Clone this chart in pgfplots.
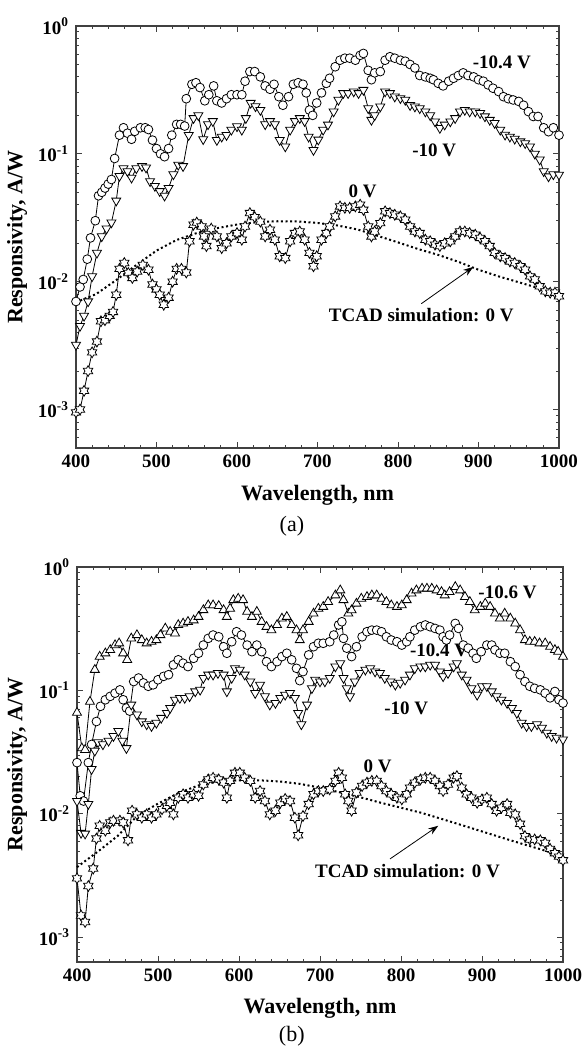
\documentclass[border=0pt]{standalone}
\usepackage{fontspec}
\setmainfont{Liberation Serif}
\usepackage{pgfplots}
\pgfplotsset{compat=1.18}
\usetikzlibrary{arrows.meta}

% six-pointed open star used for the 0 V curves
\pgfdeclareplotmark{hexstar}{%
  \pgfpathmoveto{\pgfpointpolar{90}{\pgfplotmarksize}}%
  \pgfpathlineto{\pgfpointpolar{120}{0.577\pgfplotmarksize}}%
  \pgfpathlineto{\pgfpointpolar{150}{\pgfplotmarksize}}%
  \pgfpathlineto{\pgfpointpolar{180}{0.577\pgfplotmarksize}}%
  \pgfpathlineto{\pgfpointpolar{210}{\pgfplotmarksize}}%
  \pgfpathlineto{\pgfpointpolar{240}{0.577\pgfplotmarksize}}%
  \pgfpathlineto{\pgfpointpolar{270}{\pgfplotmarksize}}%
  \pgfpathlineto{\pgfpointpolar{300}{0.577\pgfplotmarksize}}%
  \pgfpathlineto{\pgfpointpolar{330}{\pgfplotmarksize}}%
  \pgfpathlineto{\pgfpointpolar{0}{0.577\pgfplotmarksize}}%
  \pgfpathlineto{\pgfpointpolar{30}{\pgfplotmarksize}}%
  \pgfpathlineto{\pgfpointpolar{60}{0.577\pgfplotmarksize}}%
  \pgfpathclose
  \pgfusepathqfillstroke
}

\tikzset{
  mycirc/.style={black, line width=0.4pt, mark=*, mark size=2.2pt, mark options={fill=white, line width=0.4pt}},
  mytdown/.style={black, line width=0.4pt, mark=triangle*, mark size=2.6pt, mark options={fill=white, rotate=180, line width=0.4pt}},
  mytup/.style={black, line width=0.4pt, mark=triangle*, mark size=2.6pt, mark options={fill=white, line width=0.4pt}},
  myhstar/.style={black, line width=0.4pt, mark=hexstar, mark size=2.7pt, mark options={fill=white, line width=0.4pt}},
  mytcad/.style={black, line width=1pt, dash pattern=on 1pt off 1.3pt},
  mylab/.style={font=\fontsize{9.5}{11}\selectfont\bfseries},
}

\begin{document}
\begin{tikzpicture}
\useasboundingbox (-38pt,-300.5pt) rectangle (254pt,224pt);

% ---------------- (a) ----------------
\begin{semilogyaxis}[at={(0,0)}, anchor=south west,
  scale only axis, width=241.5pt, height=211pt,
  xmin=400, xmax=1000, ymin=5e-4, ymax=1,
  xtick={400,500,...,1000}, xticklabels={400,500,600,700,800,900,1000},
  minor x tick num=4,
  ytick={1e-3,1e-2,1e-1,1},
  yticklabels={10\textsuperscript{-3},10\textsuperscript{-2},10\textsuperscript{-1},10\textsuperscript{0}},
  minor ytick={6e-4,7e-4,8e-4,9e-4,2e-3,3e-3,4e-3,5e-3,6e-3,7e-3,8e-3,9e-3,2e-2,3e-2,4e-2,5e-2,6e-2,7e-2,8e-2,9e-2,0.2,0.3,0.4,0.5,0.6,0.7,0.8,0.9},
  tick align=inside, major tick length=3pt, minor tick length=1.6pt,
  tick style={black!75, line width=0.4pt},
  axis line style={black!75, line width=0.6pt},
  ticklabel style={font=\fontsize{9.5}{11}\selectfont\bfseries},
  xlabel={Wavelength, nm}, ylabel={Responsivity, A/W},
  xlabel style={font=\fontsize{11}{13}\selectfont\bfseries, at={(axis description cs:0.5,-0.111)}, anchor=center},
  ylabel style={font=\fontsize{11}{13}\selectfont\bfseries, at={(axis description cs:-0.122,0.5)}, anchor=center},
  clip=false]

\addplot[mycirc] coordinates {
(400,0.0070) (405,0.0091) (409,0.0104) (414,0.015) (418,0.022) (424,0.030) (428,0.047)
(432,0.050) (436,0.054) (440,0.058) (444,0.063) (448,0.092) (454,0.14) (459,0.16)
(464,0.145) (469,0.13) (473,0.15) (480,0.16) (486,0.16) (490,0.155) (495,0.128)
(500,0.11) (505,0.10) (510,0.095) (515,0.11) (519,0.14) (525,0.17) (530,0.17)
(535,0.165) (537,0.27) (544,0.35) (549,0.36) (554,0.33) (560,0.26) (565,0.29)
(571,0.34) (575,0.26) (581,0.25) (587,0.27) (593,0.29) (600,0.29) (606,0.29)
(610,0.37) (616,0.44) (622,0.44) (629,0.40) (635,0.34) (641,0.32) (646,0.35)
(652,0.28) (657,0.24) (664,0.28) (670,0.35) (676,0.36) (682,0.35) (686,0.30)
(690,0.22) (694,0.20) (699,0.25) (705,0.30) (711,0.356) (715,0.39) (722,0.48)
(728,0.54) (734,0.56) (740,0.56) (747,0.54) (753,0.59) (757,0.61) (763,0.45)
(767,0.38) (771,0.43) (778,0.44) (784,0.54) (790,0.575) (796,0.56) (803,0.54)
(809,0.53) (815,0.50) (821,0.47) (827,0.41) (834,0.40) (840,0.39) (844,0.38)
(850,0.356) (856,0.34) (863,0.37) (869,0.39) (875,0.41) (881,0.43) (887,0.41)
(894,0.40) (900,0.38) (906,0.37) (912,0.346) (918,0.326) (925,0.307) (931,0.28)
(937,0.27) (943,0.264) (950,0.257) (956,0.24) (962,0.214) (968,0.196) (974,0.196)
(981,0.16) (987,0.149) (993,0.16) (1000,0.14)
};

\addplot[mytdown] coordinates {
(400,0.0032) (405,0.0045) (410,0.0054) (415,0.0070) (420,0.011) (426,0.0168)
(432,0.0226) (438,0.026) (444,0.029) (450,0.043) (454,0.067) (459,0.077) (464,0.073)
(469,0.065) (475,0.077) (482,0.080) (487,0.078) (492,0.061) (498,0.056) (504,0.051)
(510,0.047) (515,0.054) (521,0.069) (527,0.082) (533,0.080) (540,0.14) (546,0.19)
(552,0.20) (558,0.13) (564,0.17) (570,0.18) (575,0.128) (581,0.136) (587,0.14)
(593,0.154) (600,0.164) (606,0.154) (611,0.19) (617,0.25) (623,0.235) (629,0.22)
(635,0.17) (641,0.18) (647,0.17) (653,0.128) (660,0.114) (666,0.154) (672,0.18)
(678,0.19) (684,0.18) (689,0.136) (695,0.107) (701,0.129) (707,0.154) (713,0.169)
(720,0.214) (726,0.264) (732,0.298) (738,0.298) (745,0.307) (751,0.298) (757,0.316)
(763,0.227) (767,0.184) (771,0.20) (778,0.234) (784,0.307) (790,0.298) (796,0.28)
(803,0.272) (809,0.264) (815,0.24) (821,0.234) (827,0.227) (834,0.214) (840,0.20)
(846,0.179) (852,0.159) (858,0.169) (865,0.179) (871,0.19) (877,0.214) (883,0.22)
(889,0.214) (896,0.214) (902,0.208) (908,0.196) (914,0.184) (920,0.174) (927,0.154)
(933,0.141) (939,0.136) (945,0.131) (952,0.125) (958,0.121) (964,0.114) (970,0.10)
(976,0.09) (981,0.073) (987,0.0665) (993,0.069) (1000,0.0686)
};

\addplot[myhstar] coordinates {
(400,0.00095) (405,0.0010) (410,0.0014) (415,0.0020) (420,0.0028) (426,0.0034)
(431,0.0049) (436,0.0050) (442,0.0054) (446,0.0058) (450,0.0079) (454,0.0126)
(460,0.0140) (465,0.0117) (470,0.0107) (476,0.0120) (483,0.0135) (490,0.0124)
(495,0.0095) (500,0.0087) (504,0.0079) (509,0.0066) (515,0.0075) (520,0.0100)
(525,0.0126) (531,0.0126) (537,0.0118) (541,0.0207) (546,0.0279) (550,0.029)
(556,0.027) (559,0.0226) (562,0.019) (568,0.026) (575,0.0226) (581,0.0183)
(587,0.020) (593,0.0226) (600,0.024) (606,0.0213) (610,0.027) (616,0.0344)
(622,0.032) (629,0.0295) (635,0.0226) (641,0.0255) (647,0.0213) (653,0.0158)
(660,0.0153) (666,0.0207) (672,0.024) (678,0.0247) (684,0.0213) (690,0.0168)
(695,0.0132) (699,0.0158) (705,0.0213) (711,0.024) (715,0.027) (722,0.0324)
(728,0.0388) (734,0.0378) (740,0.0378) (747,0.0388) (753,0.040) (757,0.0365)
(763,0.027) (767,0.0226) (771,0.0247) (778,0.0287) (784,0.0355) (790,0.0344)
(796,0.0334) (803,0.0324) (809,0.0305) (815,0.027) (821,0.0247) (827,0.024)
(834,0.0213) (840,0.0207) (846,0.0195) (852,0.019) (858,0.020) (865,0.0207)
(871,0.0226) (877,0.0247) (883,0.0247) (889,0.024) (896,0.0233) (902,0.022)
(908,0.0207) (914,0.019) (920,0.0168) (927,0.0158) (933,0.0153) (939,0.0144)
(945,0.014) (952,0.0132) (958,0.0124) (964,0.011) (970,0.0104) (976,0.0092)
(983,0.0084) (989,0.0082) (995,0.0082) (1000,0.0077)
};

\addplot[mytcad] coordinates {
(400,0.0069) (425,0.0080) (450,0.0103) (475,0.0135) (500,0.0175) (525,0.0212)
(550,0.0240) (575,0.0262) (600,0.0280) (625,0.0292) (650,0.0297) (675,0.0296)
(700,0.0288) (725,0.0275) (750,0.0256) (775,0.0228) (800,0.0203) (825,0.0180)
(850,0.0162) (875,0.0143) (900,0.0124) (925,0.0110) (950,0.0099) (975,0.0089)
(1000,0.0080)
};

\node[mylab] at (axis cs:929,0.519) {-10.4 V};
\node[mylab] at (axis cs:845,0.107) {-10 V};
\node[mylab] at (axis cs:756,0.051) {0 V};
\node[mylab] at (axis cs:829,0.00546) {TCAD simulation: 0 V};
\draw[-{Stealth[length=5pt,width=3.5pt]}, line width=0.4pt] (axis cs:829,0.00673) -- (axis cs:893.5,0.01303);
\node[font=\fontsize{11}{13}\selectfont] at (axis description cs:0.447,-0.185) {(a)};
\end{semilogyaxis}

% ---------------- (b) ----------------
\begin{semilogyaxis}[at={(0.5pt,-257pt)}, anchor=south west,
  scale only axis, width=243pt, height=197.5pt,
  xmin=400, xmax=1000, ymin=6.3e-4, ymax=1,
  xtick={400,500,...,1000}, xticklabels={400,500,600,700,800,900,1000},
  minor x tick num=4,
  ytick={1e-3,1e-2,1e-1,1},
  yticklabels={10\textsuperscript{-3},10\textsuperscript{-2},10\textsuperscript{-1},10\textsuperscript{0}},
  minor ytick={7e-4,8e-4,9e-4,2e-3,3e-3,4e-3,5e-3,6e-3,7e-3,8e-3,9e-3,2e-2,3e-2,4e-2,5e-2,6e-2,7e-2,8e-2,9e-2,0.2,0.3,0.4,0.5,0.6,0.7,0.8,0.9},
  tick align=inside, major tick length=3pt, minor tick length=1.6pt,
  tick style={black!75, line width=0.4pt},
  axis line style={black!75, line width=0.6pt},
  ticklabel style={font=\fontsize{9.5}{11}\selectfont\bfseries},
  xlabel={Wavelength, nm}, ylabel={Responsivity, A/W},
  xlabel style={font=\fontsize{11}{13}\selectfont\bfseries, at={(axis description cs:0.5,-0.116)}, anchor=center},
  ylabel style={font=\fontsize{11}{13}\selectfont\bfseries, at={(axis description cs:-0.123,0.5)}, anchor=center},
  clip=false]

\addplot[mytup] coordinates {
(400,0.066) (406,0.034) (410,0.033) (416,0.081) (422,0.147) (428,0.188) (435,0.20)
(441,0.213) (447,0.233) (452,0.241) (457,0.20) (462,0.177) (467,0.264) (474,0.281)
(480,0.256) (486,0.241) (492,0.248) (498,0.256) (503,0.281) (509,0.318) (515,0.299)
(521,0.29) (525,0.339) (531,0.349) (537,0.36) (544,0.37) (550,0.395) (556,0.448)
(562,0.49) (568,0.49) (575,0.484) (581,0.448) (585,0.395) (589,0.46) (593,0.54)
(599,0.555) (605,0.54) (610,0.434) (616,0.395) (622,0.434) (628,0.36) (634,0.328)
(640,0.308) (647,0.339) (653,0.383) (659,0.395) (665,0.339) (671,0.308) (675,0.256)
(679,0.308) (686,0.36) (692,0.42) (698,0.46) (704,0.476) (710,0.522) (719,0.59)
(725,0.648) (729,0.54) (735,0.42) (739,0.447) (745,0.506) (751,0.555) (758,0.573)
(764,0.59) (770,0.59) (776,0.555) (782,0.522) (788,0.49) (795,0.476) (801,0.49)
(807,0.54) (813,0.61) (819,0.648) (826,0.669) (832,0.669) (838,0.669) (844,0.648)
(850,0.628) (854,0.59) (860,0.628) (867,0.69) (873,0.648) (879,0.573) (885,0.522)
(891,0.447) (898,0.476) (904,0.506) (910,0.476) (916,0.42) (922,0.383) (928,0.42)
(935,0.383) (941,0.349) (947,0.308) (953,0.256) (959,0.248) (965,0.248) (971,0.241)
(978,0.241) (984,0.226) (990,0.213) (994,0.206) (1000,0.188)
};

\addplot[mycirc] coordinates {
(400,0.026) (404,0.014) (408,0.0127) (414,0.026) (418,0.0365) (424,0.056) (429,0.0743)
(435,0.084) (441,0.0895) (447,0.095) (453,0.101) (457,0.084) (461,0.072) (465,0.068)
(470,0.118) (476,0.126) (482,0.115) (488,0.108) (494,0.111) (500,0.122) (507,0.13)
(513,0.134) (519,0.161) (525,0.177) (531,0.166) (537,0.156) (544,0.182) (550,0.20)
(556,0.233) (562,0.264) (568,0.281) (575,0.272) (581,0.226) (585,0.20) (591,0.248)
(597,0.299) (603,0.281) (610,0.233) (616,0.206) (622,0.233) (628,0.206) (634,0.171)
(640,0.156) (647,0.171) (653,0.188) (659,0.20) (665,0.177) (671,0.151) (675,0.12)
(679,0.142) (686,0.194) (692,0.226) (698,0.241) (704,0.241) (712,0.248) (717,0.281)
(723,0.339) (727,0.36) (729,0.264) (733,0.22) (739,0.188) (745,0.226) (752,0.272)
(758,0.299) (764,0.308) (770,0.308) (776,0.299) (782,0.272) (788,0.256) (795,0.248)
(801,0.233) (807,0.248) (811,0.272) (817,0.308) (824,0.328) (830,0.339) (836,0.328)
(842,0.318) (848,0.308) (852,0.272) (856,0.256) (860,0.281) (867,0.349) (871,0.318)
(877,0.233) (883,0.22) (889,0.20) (893,0.182) (899,0.206) (906,0.233) (912,0.233)
(916,0.213) (922,0.20) (928,0.20) (935,0.171) (941,0.156) (947,0.134) (953,0.118)
(959,0.108) (965,0.104) (972,0.101) (978,0.095) (984,0.087) (990,0.098) (995,0.084)
(1000,0.079)
};

\addplot[mytdown] coordinates {
(400,0.0127) (405,0.0070) (410,0.0069) (414,0.012) (418,0.023) (422,0.0324) (426,0.038)
(432,0.0365) (439,0.039) (445,0.0426) (451,0.0468) (456,0.039) (461,0.034) (467,0.0766)
(474,0.0636) (480,0.056) (486,0.053) (492,0.0513) (498,0.0545) (504,0.0598) (511,0.0656)
(515,0.072) (521,0.084) (527,0.0867) (533,0.0867) (539,0.0895) (546,0.098) (552,0.101)
(556,0.126) (562,0.134) (568,0.134) (574,0.138) (581,0.134) (585,0.098) (591,0.126)
(595,0.151) (601,0.147) (607,0.134) (614,0.118) (620,0.095) (626,0.111) (632,0.0895)
(638,0.0766) (645,0.079) (651,0.0867) (657,0.092) (663,0.095) (669,0.0867) (673,0.0656)
(677,0.053) (684,0.0766) (690,0.104) (694,0.122) (700,0.118) (706,0.118) (712,0.126)
(719,0.156) (725,0.166) (729,0.126) (733,0.104) (737,0.0895) (743,0.118) (749,0.138)
(756,0.147) (762,0.151) (768,0.142) (774,0.138) (780,0.126) (787,0.118) (793,0.111)
(799,0.115) (805,0.122) (811,0.134) (817,0.151) (824,0.156) (830,0.156) (836,0.161)
(842,0.161) (848,0.142) (852,0.13) (858,0.138) (865,0.156) (869,0.166) (875,0.134)
(881,0.122) (887,0.104) (894,0.092) (900,0.108) (906,0.108) (912,0.098) (918,0.0895)
(924,0.084) (931,0.079) (937,0.072) (943,0.0656) (949,0.0545) (955,0.0513) (961,0.0513)
(968,0.053) (974,0.0497) (980,0.0453) (986,0.0426) (992,0.0413) (1000,0.040)
};

\addplot[myhstar] coordinates {
(400,0.0030) (405,0.0015) (410,0.00133) (414,0.0026) (420,0.0036) (424,0.0063)
(428,0.0080) (435,0.0073) (441,0.0085) (445,0.0088) (453,0.0088) (457,0.0085)
(463,0.0061) (468,0.0106) (474,0.0099) (480,0.0093) (486,0.0099) (492,0.0093)
(498,0.0099) (505,0.0109) (511,0.0116) (515,0.0123) (519,0.0099) (525,0.0135)
(531,0.0144) (537,0.0135) (544,0.0144) (550,0.014) (556,0.0173) (562,0.019)
(568,0.0196) (575,0.019) (581,0.0179) (585,0.0135) (589,0.0185) (595,0.0215)
(601,0.0215) (607,0.0196) (614,0.0185) (620,0.0135) (626,0.0153) (632,0.0127)
(638,0.0099) (645,0.0106) (651,0.0123) (657,0.0132) (663,0.0127) (669,0.0093)
(673,0.0067) (679,0.0096) (686,0.012) (692,0.0144) (698,0.0153) (704,0.0153)
(712,0.0158) (719,0.0185) (723,0.0215) (727,0.0196) (731,0.0144) (735,0.0127)
(739,0.0106) (745,0.0149) (752,0.0168) (758,0.0179) (764,0.0185) (770,0.0185)
(776,0.0168) (782,0.0153) (788,0.0144) (795,0.0135) (801,0.0131) (807,0.0144)
(811,0.0163) (817,0.0179) (824,0.019) (830,0.0196) (836,0.0196) (842,0.0185)
(848,0.0168) (852,0.0153) (858,0.0173) (865,0.0196) (869,0.0202) (875,0.0163)
(881,0.0144) (887,0.0135) (894,0.0123) (900,0.0131) (906,0.0135) (912,0.012)
(918,0.0106) (924,0.0112) (931,0.012) (935,0.0102) (941,0.0099) (947,0.0083)
(953,0.0066) (959,0.0062) (965,0.0062) (972,0.0061) (978,0.0058) (984,0.0052)
(990,0.0048) (995,0.0045) (1000,0.0042)
};

\addplot[mytcad] coordinates {
(400,0.0037) (425,0.0049) (450,0.0066) (475,0.0097) (500,0.0121) (525,0.0147)
(550,0.0170) (575,0.0183) (600,0.0187) (625,0.0187) (650,0.0183) (675,0.0175)
(700,0.0163) (725,0.0149) (750,0.0136) (775,0.0123) (800,0.0112) (825,0.0102)
(850,0.0091) (875,0.0081) (900,0.0072) (925,0.0064) (950,0.0057) (975,0.0051)
(1000,0.0045)
};

\node[mylab] at (axis cs:931.5,0.629) {-10.6 V};
\node[mylab] at (axis cs:847,0.213) {-10.4 V};
\node[mylab] at (axis cs:806.5,0.072) {-10 V};
\node[mylab] at (axis cs:771,0.0244) {0 V};
\node[mylab] at (axis cs:808,0.00347) {TCAD simulation: 0 V};
\draw[-{Stealth[length=5pt,width=3.5pt]}, line width=0.4pt] (axis cs:786.4,0.00431) -- (axis cs:846,0.0080);
\node[font=\fontsize{11}{13}\selectfont] at (axis description cs:0.442,-0.187) {(b)};
\end{semilogyaxis}
\end{tikzpicture}
\end{document}
